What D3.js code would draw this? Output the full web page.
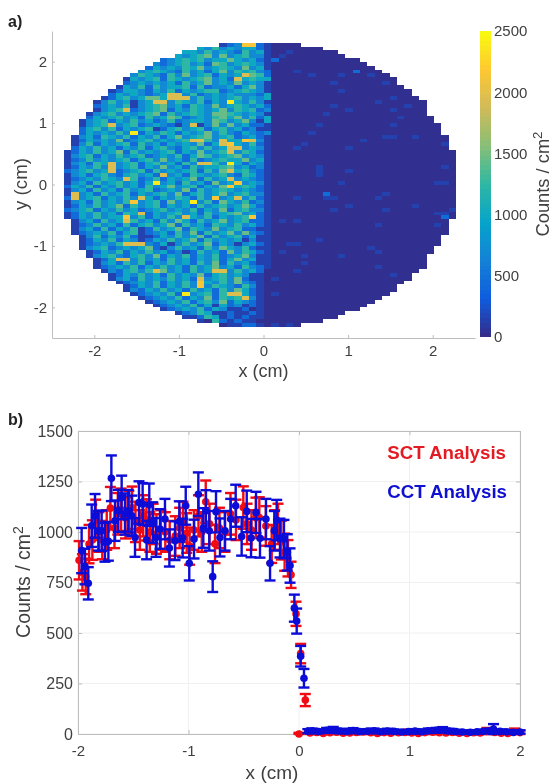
<!DOCTYPE html>
<html>
<head>
<meta charset="utf-8">
<script src="https://cdn.jsdelivr.net/npm/d3@7"></script>
<style>
  html, body { margin: 0; padding: 0; background: #fff; }
  svg { display: block; filter: blur(0.6px); font-family: "Liberation Sans", Arial, sans-serif; }
  .axis-a path, .axis-a line, .axis-b path, .axis-b line { stroke: #bdbdbd; }
  .axis-a text, .axis-b text { fill: #404040; font-family: "Liberation Sans", Arial, sans-serif; }
  .label { fill: #404040; }
</style>
</head>
<body>
<div id="chart"></div>
<script>
// ---- panel a: counts map (top to bottom)
// each char is a colour level, '.' is outside the detector
const heatLevels = [30, 150, 450, 700, 1000, 1250, 1450, 1950, 2150, 2400, 2500];
const heatLeft = [
  ".....................1238821",
  "..................4353434421",
  "................443534325341",
  "...............4345636345331",
  ".............234545344643421",
  "............3234534265345431",
  "...........24343546345436341",
  "..........345432534246354532",
  ".........3543253634524347652",
  "........14345254345634274544",
  "........23434342534634363431",
  ".......143525344525233424631",
  "......1244324352434552345431",
  "......2434323477352343433324",
  ".....12453466477735343453434",
  "....135341347735435243943531",
  "....234351345634254363454342",
  "....134572345624354346354523",
  "...1345343456253454366543431",
  "...2434534253465234356463524",
  "..13452435342352344365346314",
  "..13457345234321371363634221",
  "..24535243451245345245342311",
  "..24343539243542434635324323",
  ".134254352435246345634523421",
  ".124343623453434577537448731",
  ".135243452534243436247843521",
  ".243534243524532453534773431",
  "1243534625343452436345735421",
  "1345243534523435246534563431",
  "1235343452453634252345446341",
  "1342547345245342537753942431",
  "1243537345243634253445634231",
  "2345347234525343452536745321",
  "1342453245342734254345325421",
  "1234354375235243462534734321",
  "1342534534249342534263483431",
  "2435243534253463452436845421",
  "1342534253452343625345434321",
  "1734253452434536245346345331",
  "2734524353742435425383473521",
  "1342534358345263493526435231",
  "1243534625345243425345346421",
  "2345243534234534352436245331",
  "1243534254724345342534563421",
  "1243534483524353743524345821",
  ".134253475342536425346345221",
  ".123534252453462534254353421",
  ".134252435125346254363452211",
  ".123435245123425362534636321",
  "..13524352112435346253452411",
  "..12435243124353462534341311",
  "..12343577732413534624313421",
  "..13452343462135342536435211",
  "...1243524353423125342635421",
  "...1345324536243524352346311",
  "....124773534253424352463411",
  "....134253524353425362534211",
  "....123435243534253463425321",
  ".....13245357634253477353420",
  "......1243534253436245343110",
  "......1342534353427345362110",
  ".......123435243538435363210",
  "........12435243538354325310",
  "........13243534253425364210",
  ".........1234352934525774210",
  "..........123435243625457310",
  "...........12343524536243210",
  "............1234352414231210",
  ".............123435243112010",
  "...............1235411211210",
  "................112541212110",
  "..................1052121100",
  ".....................0112210"
];
// right half: number of cells per row, nearly all at the lowest level
const heatRightCells = [4,7,9,10,12,13,14,15,16,17,17,18,19,19,20,21,21,21,21,22,22,23,23,23,24,24,24,24,
  25,25,25,25,25,25,25,25,25,25,25,25,25,25,25,25,25,25,
  24,24,24,24,23,23,23,22,22,21,21,21,21,20,19,19,18,17,17,16,15,14,13,12,10,9,7,4];
// the few brighter cells on the right half: [row, cell, level]
const heatRightHits = [[2,2,1],[3,1,1],[4,0,2],[7,3,1],[8,5,1],[7,11,2],[8,9,1],[8,13,1],[10,8,1],[10,15,1],
  [12,9,1],[14,16,1],[15,14,1],[16,8,1],[17,10,1],[17,16,1],[16,18,1],[18,7,1],[19,17,1],[21,6,1],[21,16,1],
  [23,5,1],[24,15,1],[24,16,1],[24,19,1],[25,12,1],[26,4,1],[27,3,1],[27,10,1],[26,23,1],[32,6,1],[33,6,1],
  [34,6,1],[33,10,1],[32,23,1],[36,9,1],[36,22,1],[36,23,1],[39,7,2],[40,7,1],[40,8,1],[40,3,1],[39,15,1],
  [40,14,1],[42,10,1],[43,8,1],[43,15,1],[42,19,1],[44,22,1],[44,23,1],[45,23,2],[43,24,1],[46,1,1],[46,3,1],
  [47,14,1],[47,22,1],[51,6,1],[52,2,1],[52,3,1],[53,13,1],[54,1,1],[54,14,1],[55,4,1],[55,9,1],[57,4,1],
  [59,3,1],[58,14,1],[60,16,1],[61,0,1],[65,0,1],[73,0,1],[73,2,1]];
const parulaStops = ["#352a87", "#0f5cdd", "#1481d6", "#06a4ca", "#2eb7a4", "#87bf77", "#d1bb59", "#fec832", "#f9fb0e"];
const colorbarTicks = [0, 500, 1000, 1500, 2000, 2500];
const mapTicks = [-2, -1, 0, 1, 2];

// ---- panel b: profile along x
const sctX = [-1.99,-1.96,-1.93,-1.90,-1.87,-1.84,-1.81,-1.78,-1.74,-1.707,-1.67,-1.64,-1.61,-1.57,-1.54,-1.51,-1.48,-1.44,-1.41,-1.38,-1.35,-1.32,-1.29,-1.25,-1.21,-1.17,-1.12,-1.08,-1.05,-1.016,-0.99,-0.95,-0.91,-0.88,-0.844,-0.81,-0.76,-0.72,-0.67,-0.62,-0.57,-0.504,-0.47,-0.43,-0.39,-0.359,-0.30,-0.247,-0.22,-0.19,-0.16,-0.13,-0.10,-0.072,-0.027,0.015,0.057,0.0,0.10,0.16,0.22,0.28,0.34,0.40,0.46,0.52,0.58,0.65,0.71,0.77,0.83,0.90,0.96,1.02,1.08,1.14,1.21,1.27,1.33,1.39,1.45,1.52,1.58,1.64,1.70,1.77,1.83,1.89,1.95,2.0];
const sctY = [860,800,780,940,960,1060,1000,960,1010,1118,1020,1090,1110,1070,1100,1120,1050,1010,1080,1060,1000,1040,990,1010,1000,960,980,1020,1050,995,930,1010,1080,1000,1150,1040,941,1020,1000,1090,1060,1121,1040,1010,1070,1072,1030,941,1010,1040,960,900,870,788,595,398,168,0,5,8,3,6,9,4,5,8,10,6,3,7,4,6,8,5,3,7,9,6,5,8,4,3,6,5,12,8,4,3,11,7];
const sctErr = [95,90,88,95,98,100,98,95,98,105,100,103,105,102,104,105,100,98,102,102,98,100,98,98,98,95,98,100,100,98,92,98,102,98,105,100,95,100,98,103,100,105,100,98,100,100,98,94,98,100,96,92,90,65,60,48,30,6,12,10,8,9,12,8,9,11,12,9,8,10,8,9,11,9,8,10,12,9,9,11,8,8,10,9,18,12,9,8,16,11];
const cctX = [-1.967,-1.937,-1.907,-1.876,-1.846,-1.816,-1.786,-1.756,-1.725,-1.698,-1.665,-1.635,-1.605,-1.575,-1.545,-1.514,-1.484,-1.448,-1.415,-1.379,-1.355,-1.324,-1.294,-1.258,-1.213,-1.173,-1.122,-1.083,-1.053,-1.025,-0.993,-0.950,-0.911,-0.866,-0.842,-0.812,-0.781,-0.751,-0.715,-0.670,-0.618,-0.573,-0.519,-0.473,-0.434,-0.389,-0.353,-0.299,-0.262,-0.223,-0.202,-0.172,-0.136,-0.106,-0.081,-0.042,-0.021,0.015,0.045,0.08,0.12,0.18,0.25,0.31,0.37,0.43,0.49,0.55,0.62,0.68,0.74,0.80,0.86,0.93,0.99,1.05,1.11,1.17,1.24,1.30,1.36,1.42,1.48,1.55,1.61,1.67,1.73,1.76,1.82,1.88,1.94,2.0];
const cctY = [908,829,746,1031,1080,1006,1006,949,954,1266,1056,1105,1171,1089,1105,1080,973,1146,1138,960,1135,1047,973,1015,1064,921,957,1052,970,1130,845,965,1187,1020,1105,1006,779,1100,973,1006,1064,1130,978,1102,970,1097,969,1064,845,1006,1059,970,965,899,834,623,559,385,276,14,16,12,18,20,15,13,17,12,14,16,11,15,13,10,12,14,11,16,18,21,15,12,10,9,11,13,16,24,13,11,8,10];
const cctErr = [112,88,80,105,108,98,100,96,96,113,100,104,108,102,103,100,96,105,104,95,105,100,96,98,100,92,96,100,96,94,85,96,108,98,102,98,76,102,94,98,100,104,95,103,95,102,96,100,85,98,100,96,95,90,85,67,62,51,46,10,11,9,12,15,11,10,12,9,10,11,8,11,10,8,9,10,8,11,12,13,11,9,8,7,8,9,11,25,10,8,7,8];
const profileXTicks = [-2, -1, 0, 1, 2];
const profileYTicks = [0, 250, 500, 750, 1000, 1250, 1500];

const width = 554;
const height = 783;

const svg = d3.select("#chart").append("svg")
    .attr("width", width)
    .attr("height", height)
    .attr("viewBox", `0 0 ${width} ${height}`);

svg.append("rect").attr("width", width).attr("height", height).attr("fill", "#fff");

// ========= Panel a
const xMap = d3.scaleLinear().domain([-2.5, 2.5]).range([52, 475]);
const yMap = d3.scaleLinear().domain([-2.5, 2.5]).range([338, 31]);

const color = d3.scaleLinear()
    .domain(parulaStops.map((c, i) => i * 2500 / (parulaStops.length - 1)))
    .range(parulaStops);

// grid of the map in cm
const cellW = 0.0875;
const cellH = 0.0625;
const edgeX = 0.09;
const topY = 2.31;

const cells = [];
heatLeft.forEach((row, k) => {
    const chars = row.split("");
    chars.forEach((ch, i) => {
        if (ch === ".") return;
        const fromEdge = chars.length - i;
        cells.push({ x0: edgeX - fromEdge * cellW, k: k, value: heatLevels[parseInt(ch, 11)] });
    });
});
heatRightCells.forEach((n, k) => {
    d3.range(n).forEach(i => {
        const hit = heatRightHits.find(h => h[0] === k && h[1] === i);
        cells.push({ x0: edgeX + i * cellW, k: k, value: hit ? heatLevels[hit[2]] : heatLevels[0] });
    });
});

svg.append("g")
    .attr("shape-rendering", "crispEdges")
    .selectAll("rect")
    .data(cells)
    .enter()
    .append("rect")
    .attr("x", d => xMap(d.x0))
    .attr("y", d => yMap(topY - d.k * cellH))
    .attr("width", xMap(cellW) - xMap(0))
    .attr("height", yMap(0) - yMap(cellH))
    .attr("fill", d => color(d.value));

const xAxisA = d3.axisBottom(xMap).tickValues(mapTicks).tickSizeInner(-3).tickSizeOuter(0).tickPadding(7).tickFormat(d => d);
const yAxisA = d3.axisLeft(yMap).tickValues(mapTicks).tickSizeInner(-3).tickSizeOuter(0).tickPadding(5).tickFormat(d => d);

svg.append("g")
    .attr("class", "axis-a")
    .attr("transform", "translate(0,338)")
    .call(xAxisA)
    .style("font-size", "15px");

svg.append("g")
    .attr("class", "axis-a")
    .attr("transform", "translate(52,0)")
    .call(yAxisA)
    .style("font-size", "15px");

// colorbar
const yBar = d3.scaleLinear().domain([0, 2500]).range([337, 31]);
svg.append("g")
    .attr("shape-rendering", "crispEdges")
    .selectAll("rect")
    .data(d3.range(64))
    .enter()
    .append("rect")
    .attr("x", 480)
    .attr("width", 11)
    .attr("y", d => yBar((d + 1) * 2500 / 64))
    .attr("height", yBar(0) - yBar(2500 / 64) + 0.4)
    .attr("fill", d => color((d + 0.5) * 2500 / 64));

const barAxis = d3.axisRight(yBar).tickValues(colorbarTicks).tickSize(0).tickPadding(3).tickFormat(d => d);
svg.append("g")
    .attr("class", "axis-a")
    .attr("transform", "translate(491,0)")
    .call(barAxis)
    .style("font-size", "15px")
    .select(".domain").remove();

function countsLabel(x, y, size) {
    const t = svg.append("text")
        .attr("class", "label")
        .attr("transform", `translate(${x},${y}) rotate(-90)`)
        .attr("text-anchor", "middle")
        .style("font-size", size + "px");
    t.append("tspan").text("Counts / cm");
    t.append("tspan").attr("dy", -7).style("font-size", (size * 0.72) + "px").text("2");
}

countsLabel(549, 184, 18.3);
countsLabel(30, 582, 19.5);

svg.append("text").attr("class", "label")
    .attr("transform", "translate(27,184) rotate(-90)")
    .attr("text-anchor", "middle")
    .style("font-size", "18.7px")
    .text("y (cm)");

svg.append("text").attr("class", "label")
    .attr("x", 263.5).attr("y", 377)
    .attr("text-anchor", "middle")
    .style("font-size", "18px")
    .text("x (cm)");

svg.append("text")
    .attr("x", 8).attr("y", 27)
    .style("font-size", "16px").style("font-weight", "bold").style("fill", "#222")
    .text("a)");

// ========= Panel b
const xProfile = d3.scaleLinear().domain([-2, 2]).range([78, 520]);
const yProfile = d3.scaleLinear().domain([0, 1500]).range([734, 431]);

const grid = svg.append("g");
grid.selectAll("line.gx")
    .data(profileXTicks)
    .enter()
    .append("line")
    .attr("class", "gx")
    .attr("x1", d => xProfile(d)).attr("x2", d => xProfile(d))
    .attr("y1", 431).attr("y2", 734)
    .style("stroke", "#f0f0f0");
grid.selectAll("line.gy")
    .data(profileYTicks)
    .enter()
    .append("line")
    .attr("class", "gy")
    .attr("x1", 78).attr("x2", 520)
    .attr("y1", d => yProfile(d)).attr("y2", d => yProfile(d))
    .style("stroke", "#f0f0f0");

// box and ticks
svg.append("g")
    .attr("class", "axis-b")
    .attr("transform", "translate(0,734)")
    .call(d3.axisBottom(xProfile).tickValues(profileXTicks).tickSizeInner(-4).tickSizeOuter(0).tickPadding(11).tickFormat(d => d))
    .style("font-size", "15px");
svg.append("g")
    .attr("class", "axis-b")
    .attr("transform", "translate(0,431)")
    .call(d3.axisTop(xProfile).tickValues(profileXTicks).tickSizeInner(-4).tickSizeOuter(0).tickFormat(""));
svg.append("g")
    .attr("class", "axis-b")
    .attr("transform", "translate(78,0)")
    .call(d3.axisLeft(yProfile).tickValues(profileYTicks).tickSizeInner(-4).tickSizeOuter(0).tickPadding(5).tickFormat(d => d))
    .style("font-size", "16px");
svg.append("g")
    .attr("class", "axis-b")
    .attr("transform", "translate(520,0)")
    .call(d3.axisRight(yProfile).tickValues(profileYTicks).tickSizeInner(-4).tickSizeOuter(0).tickFormat(""));

function drawSeries(xs, ys, errs, col) {
    const data = xs.map((x, i) => ({ x: x, y: ys[i], err: errs[i] }));
    const g = svg.append("g").style("stroke", col).style("stroke-width", 2.4);
    const cap = 5.5;

    g.selectAll("line.bar").data(data).enter().append("line")
        .attr("class", "bar")
        .attr("x1", d => xProfile(d.x)).attr("x2", d => xProfile(d.x))
        .attr("y1", d => yProfile(d.y + d.err)).attr("y2", d => yProfile(Math.max(d.y - d.err, 0)));
    g.selectAll("line.top").data(data).enter().append("line")
        .attr("class", "top")
        .attr("x1", d => xProfile(d.x) - cap).attr("x2", d => xProfile(d.x) + cap)
        .attr("y1", d => yProfile(d.y + d.err)).attr("y2", d => yProfile(d.y + d.err));
    g.selectAll("line.bottom").data(data).enter().append("line")
        .attr("class", "bottom")
        .attr("x1", d => xProfile(d.x) - cap).attr("x2", d => xProfile(d.x) + cap)
        .attr("y1", d => yProfile(Math.max(d.y - d.err, 0))).attr("y2", d => yProfile(Math.max(d.y - d.err, 0)));
    g.selectAll("circle").data(data).enter().append("circle")
        .attr("cx", d => xProfile(d.x))
        .attr("cy", d => yProfile(d.y))
        .attr("r", 3.8)
        .style("fill", col)
        .style("stroke", "none");
}

drawSeries(sctX, sctY, sctErr, "#f00a14");
drawSeries(cctX, cctY, cctErr, "#0c0cd8");

svg.append("text")
    .attr("x", 506).attr("y", 459)
    .attr("text-anchor", "end")
    .style("font-size", "18.7px").style("font-weight", "bold").style("fill", "#e31b23")
    .text("SCT Analysis");
svg.append("text")
    .attr("x", 507).attr("y", 498)
    .attr("text-anchor", "end")
    .style("font-size", "18.7px").style("font-weight", "bold").style("fill", "#1010d0")
    .text("CCT Analysis");

svg.append("text").attr("class", "label")
    .attr("x", 272).attr("y", 779)
    .attr("text-anchor", "middle")
    .style("font-size", "19px")
    .text("x (cm)");

svg.append("text")
    .attr("x", 8).attr("y", 425)
    .style("font-size", "16px").style("font-weight", "bold").style("fill", "#222")
    .text("b)");
</script>
</body>
</html>
